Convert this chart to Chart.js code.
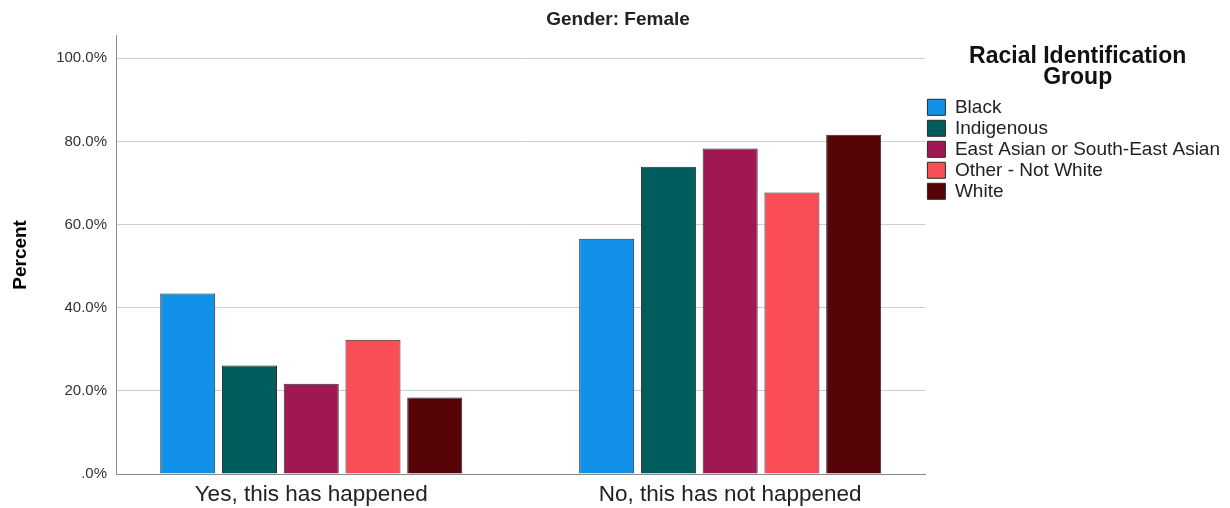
<!DOCTYPE html>
<html>
<head>
<meta charset="utf-8">
<script src="https://cdn.jsdelivr.net/npm/chart.js@4.4.1/dist/chart.umd.min.js"></script>
<style>
  body { margin: 0; background: #fff; }
  #wrap { width: 1230px; height: 508px; position: relative; }
</style>
</head>
<body>
<div id="wrap"><canvas id="chart"></canvas></div>
<script>
const categories = ['Yes, this has happened', 'No, this has not happened'];
const groupNames = ['Black', 'Indigenous', 'East Asian or South-East Asian', 'Other - Not White', 'White'];
const groupColors = ['#1192e8', '#005d5d', '#9f1853', '#fa4d56', '#570408'];

// percent of each group, in category order
const blackPct = [43.4, 56.6];
const indigenousPct = [26.1, 73.9];
const eastAsianPct = [21.7, 78.3];
const otherPct = [32.3, 67.7];
const whitePct = [18.4, 81.6];

const yTicks = [0, 20, 40, 60, 80, 100];

const seriesValues = [blackPct, indigenousPct, eastAsianPct, otherPct, whitePct];

// category axis with the two groups pushed a bit further apart (SPSS spacing)
const groupSpread = 0.034;
class SpreadCategoryScale extends Chart.CategoryScale {
  configure() {
    super.configure();
    this._startValue = this.min - 0.5 + groupSpread;
    this._valueRange = (this.max - this.min + 1) - 2 * groupSpread;
  }
}
SpreadCategoryScale.id = 'spreadCategory';
SpreadCategoryScale.defaults = Chart.CategoryScale.defaults;
Chart.register(SpreadCategoryScale);

Chart.defaults.font.family = "'Liberation Sans', Arial, sans-serif";
Chart.defaults.color = '#222';

const ctx = document.getElementById('chart').getContext('2d');
const chart = new Chart(ctx, {
  type: 'bar',
  data: {
    labels: categories,
    datasets: groupNames.map(function(name, i) {
      return {
        label: name,
        data: seriesValues[i],
        backgroundColor: groupColors[i],
        borderColor: '#2b2b2b',
        borderWidth: 1,
        categoryPercentage: 0.737,
        barPercentage: 0.891
      };
    })
  },
  options: {
    responsive: true,
    maintainAspectRatio: false,
    animation: false,
    layout: {
      padding: { left: 6, right: 0, top: 0, bottom: 0 }
    },
    plugins: {
      title: {
        display: true,
        text: 'Gender: Female',
        color: '#222',
        font: { size: 19, weight: 'bold' },
        padding: { top: 8, bottom: 5 }
      },
      legend: {
        position: 'right',
        align: 'start',
        title: {
          display: true,
          text: ['Racial Identification', 'Group'],
          color: '#111',
          font: { size: 23, weight: 'bold', lineHeight: 0.913 },
          padding: { top: 45, bottom: 29.8 }
        },
        labels: {
          boxWidth: 18,
          boxHeight: 16,
          padding: 2,
          color: '#222',
          font: { size: 19 }
        }
      },
      tooltip: { enabled: false }
    },
    scales: {
      x: {
        type: 'spreadCategory',
        afterFit: function(scale) {
          scale.height = 34;
        },
        grid: { display: false, drawTicks: false },
        border: { color: '#8a8a8a', width: 1 },
        ticks: {
          padding: 7,
          color: '#222',
          font: { size: 22.5 }
        }
      },
      y: {
        min: 0,
        max: 105.4,
        afterBuildTicks: function(scale) {
          scale.ticks = yTicks.map(function(v) { return { value: v }; });
        },
        afterFit: function(scale) {
          scale.width = 110;
        },
        grid: { color: '#cfcfcf', drawTicks: false },
        border: { color: '#8a8a8a', width: 1 },
        ticks: {
          padding: 9,
          color: '#333',
          font: { size: 15 },
          callback: function(v) {
            return v === 0 ? '.0%' : v.toFixed(1) + '%';
          }
        },
        title: {
          display: true,
          text: 'Percent',
          color: '#000',
          font: { size: 19, weight: 'bold' },
          padding: { top: 3, bottom: 4 }
        }
      }
    }
  }
});
</script>
</body>
</html>
